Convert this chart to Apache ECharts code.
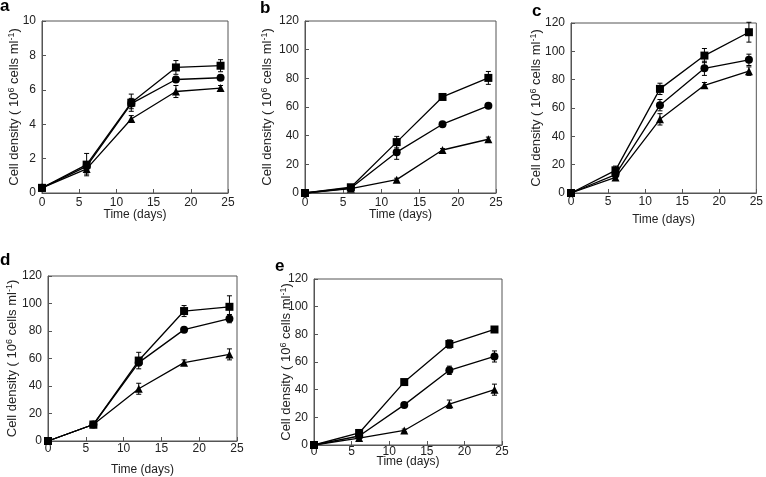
<!DOCTYPE html>
<html>
<head>
<meta charset="utf-8">
<script src="https://cdn.jsdelivr.net/npm/echarts@6/dist/echarts.min.js"></script>
<style>
  html, body { margin: 0; padding: 0; background: #fff; }
  #chart { width: 766px; height: 477px; }
</style>
</head>
<body>
<div id="chart"></div>
<script>
// sampling days
var days = [0, 6, 12, 18, 24];

// panel a
var aSquare = [0.3, 1.65, 5.25, 7.3, 7.4];
var aSquareErr = [0.05, 0.65, 0.5, 0.4, 0.35];
var aCircle = [0.3, 1.55, 5.2, 6.6, 6.7];
var aCircleErr = [0.05, 0.2, 0.3, 0.15, 0.15];
var aTriangle = [0.3, 1.4, 4.3, 5.9, 6.1];
var aTriangleErr = [0.05, 0.3, 0.2, 0.35, 0.15];

// panel b
var bSquare = [0, 4, 35.5, 67, 80.3];
var bSquareErr = [0.5, 1, 4, 1.5, 4.5];
var bCircle = [0, 3.5, 28.5, 48, 60.8];
var bCircleErr = [0.5, 1, 5, 1.5, 1.5];
var bTriangle = [0, 3, 9.3, 30, 37.5];
var bTriangleErr = [0.5, 0.5, 1, 1, 1.5];

// panel c
var cSquare = [0, 16, 73.5, 97, 113.5];
var cSquareErr = [0.5, 3, 4, 5, 7];
var cCircle = [0, 13, 62, 88, 94];
var cCircleErr = [0.5, 2, 4, 5, 4];
var cTriangle = [0, 11, 52, 76, 86];
var cTriangleErr = [0.5, 1.5, 4, 2, 3];

// panel d
var dSquare = [0, 12, 58.5, 94.5, 97.6];
var dSquareErr = [0.5, 1.5, 6, 4, 8];
var dCircle = [0, 12, 57, 81, 89];
var dCircleErr = [0.5, 1, 2, 1.5, 3];
var dTriangle = [0, 12, 38, 57, 63];
var dTriangleErr = [0.5, 1, 4, 2, 4];

// panel e
var eSquare = [0, 8.7, 45.5, 73, 83.5];
var eSquareErr = [0.5, 1, 1.5, 3, 2];
var eCircle = [0, 6.5, 29, 54, 64];
var eCircleErr = [0.5, 1, 1.5, 3, 4];
var eTriangle = [0, 5, 10.5, 29.5, 40];
var eTriangleErr = [0.5, 0.5, 1, 3, 4];

var xName = 'Time (days)';
var yName = 'Cell density ( 10{sup|6} cells ml{sup|-1})';

// layout of the five panels (pixels)
var panels = [
  { label: 'a', lx: 0, ly: 7, grid: { left: 42, top: 21, width: 186, height: 172 }, yMax: 10, yStep: 2, xGap: 16, xMargin: 4, yGap: 20,
    series: [[aSquare, aSquareErr, 'rect'], [aCircle, aCircleErr, 'circle'], [aTriangle, aTriangleErr, 'triangle']] },
  { label: 'b', lx: 260, ly: 9, grid: { left: 305, top: 21, width: 191, height: 172 }, yMax: 120, yStep: 20, xGap: 16, xMargin: 4, yGap: 30,
    series: [[bSquare, bSquareErr, 'rect'], [bCircle, bCircleErr, 'circle'], [bTriangle, bTriangleErr, 'triangle']] },
  { label: 'c', lx: 532, ly: 12, grid: { left: 571, top: 23, width: 187, height: 170 }, yMax: 120, yStep: 20, xGap: 21, xMargin: 3, yGap: 27,
    series: [[cSquare, cSquareErr, 'rect'], [cCircle, cCircleErr, 'circle'], [cTriangle, cTriangleErr, 'triangle']] },
  { label: 'd', lx: 0, ly: 261, grid: { left: 48, top: 276, width: 189, height: 167 }, yMax: 120, yStep: 20, xGap: 23, xMargin: 2, yGap: 28,
    series: [[dSquare, dSquareErr, 'rect'], [dCircle, dCircleErr, 'circle'], [dTriangle, dTriangleErr, 'triangle']] },
  { label: 'e', lx: 275, ly: 267, grid: { left: 314, top: 279, width: 188, height: 166 }, yMax: 120, yStep: 20, xGap: 11, xMargin: 1, yGap: 20,
    series: [[eSquare, eSquareErr, 'rect'], [eCircle, eCircleErr, 'circle'], [eTriangle, eTriangleErr, 'triangle']] }
];

var FONT = '"Liberation Sans", Arial, sans-serif';
var AXIS_COLOR = '#555';

function renderErr(params, api) {
  var x = api.value(0);
  var lo = api.coord([x, api.value(1)]);
  var hi = api.coord([x, api.value(2)]);
  var w = 2.5;
  var st = { stroke: '#000', lineWidth: 1 };
  return {
    type: 'group',
    children: [
      { type: 'line', shape: { x1: lo[0], y1: lo[1], x2: hi[0], y2: hi[1] }, style: st },
      { type: 'line', shape: { x1: lo[0] - w, y1: lo[1], x2: lo[0] + w, y2: lo[1] }, style: st },
      { type: 'line', shape: { x1: hi[0] - w, y1: hi[1], x2: hi[0] + w, y2: hi[1] }, style: st }
    ]
  };
}

var grids = [], xAxes = [], yAxes = [], series = [], graphics = [];

panels.forEach(function (p, i) {
  grids.push(Object.assign({ show: true, borderColor: AXIS_COLOR, borderWidth: 1, backgroundColor: 'transparent' }, p.grid));
  xAxes.push({
    gridIndex: i, type: 'value', min: 0, max: 25, interval: 5,
    name: xName, nameLocation: 'middle', nameGap: p.xGap, nameMoveOverlap: false,
    nameTextStyle: { fontFamily: FONT, fontSize: 12, color: '#222' },
    axisLine: { lineStyle: { color: AXIS_COLOR } },
    axisTick: { inside: true, length: 4, lineStyle: { color: AXIS_COLOR } },
    axisLabel: { margin: p.xMargin, fontFamily: FONT, fontSize: 12, color: '#222' },
    splitLine: { show: false }
  });
  yAxes.push({
    gridIndex: i, type: 'value', min: 0, max: p.yMax, interval: p.yStep,
    name: yName, nameLocation: 'middle', nameGap: p.yGap, nameMoveOverlap: false,
    nameTextStyle: {
      fontFamily: FONT, fontSize: 13, color: '#222', lineHeight: 15,
      rich: { sup: { fontFamily: FONT, fontSize: 9, color: '#222', verticalAlign: 'top', lineHeight: 15 } }
    },
    axisLine: { lineStyle: { color: AXIS_COLOR } },
    axisTick: { inside: true, length: 4, lineStyle: { color: AXIS_COLOR } },
    axisLabel: { margin: 6, fontFamily: FONT, fontSize: 12, color: '#222' },
    splitLine: { show: false }
  });
  p.series.forEach(function (s) {
    var vals = s[0], errs = s[1];
    series.push({
      type: 'custom', xAxisIndex: i, yAxisIndex: i, renderItem: renderErr, clip: false,
      encode: { x: 0, y: [1, 2] }, silent: true, z: 1,
      data: days.map(function (d, k) { return [d, vals[k] - errs[k], vals[k] + errs[k]]; })
    });
    series.push({
      type: 'line', xAxisIndex: i, yAxisIndex: i, clip: false, z: 2,
      symbol: s[2], symbolSize: 8, showSymbol: true,
      itemStyle: { color: '#000' },
      lineStyle: { color: '#000', width: 1.3 },
      data: days.map(function (d, k) { return [d, vals[k]]; })
    });
  });
  graphics.push({
    type: 'text', left: p.lx, top: p.ly - 9,
    style: { text: p.label, font: 'bold 17px ' + FONT, fill: '#000' }
  });
});

var chart = echarts.init(document.getElementById('chart'));
chart.setOption({
  animation: false,
  grid: grids,
  xAxis: xAxes,
  yAxis: yAxes,
  series: series,
  graphic: graphics
});
</script>
</body>
</html>
